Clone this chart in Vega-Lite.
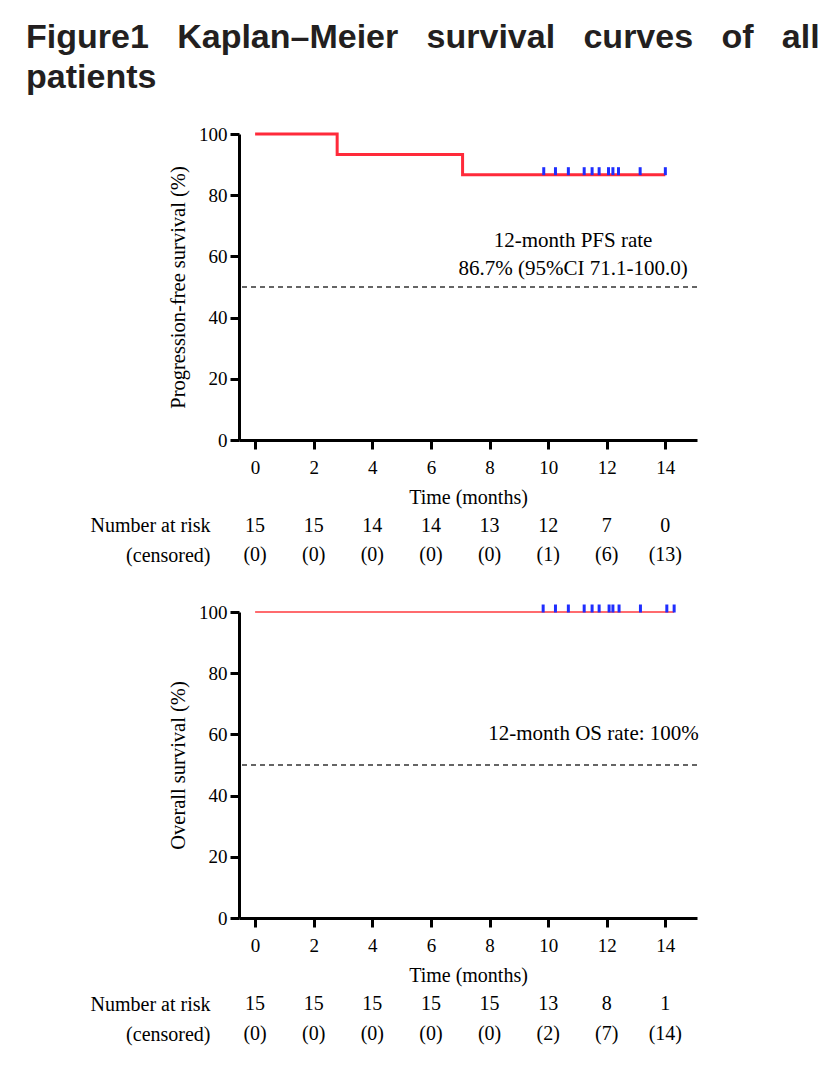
{
  "$schema": "https://vega.github.io/schema/vega-lite/v6.json",
  "background": "white",
  "padding": {"left": 26, "top": 21, "right": 10, "bottom": 10},
  "title": {
    "text": ["Figure1\u00a0\u00a0\u00a0Kaplan–Meier\u00a0\u00a0\u00a0survival\u00a0\u00a0\u00a0curves\u00a0\u00a0\u00a0of\u00a0\u00a0\u00a0all", "patients"],
    "anchor": "start",
    "font": "Liberation Sans",
    "fontWeight": "bold",
    "fontSize": 34,
    "color": "#231f20",
    "lineHeight": 40,
    "dx": -64,
    "offset": 30
  },
  "config": {
    "font": "Liberation Serif",
    "view": {"stroke": null},
    "axis": {
      "domainColor": "black",
      "domainWidth": 3,
      "tickColor": "black",
      "tickWidth": 3,
      "tickSize": 9,
      "labelFont": "Liberation Serif",
      "labelFontSize": 19,
      "labelColor": "black",
      "titleFont": "Liberation Serif",
      "titleFontSize": 20,
      "titleFontWeight": "normal",
      "titleColor": "black",
      "grid": false,
      "labelPadding": 3
    }
  },
  "spacing": 4,
  "vconcat": [
    {
      "width": 458,
      "height": 306,
      "layer": [
        {
          "data": {"values": [
            {"t": 0, "s": 100}, {"t": 2.8, "s": 93.3}, {"t": 7.08, "s": 86.7}, {"t": 14, "s": 86.7}
          ]},
          "mark": {"type": "line", "interpolate": "step-after", "color": "#ff2a3a", "strokeWidth": 3},
          "encoding": {
            "x": {"field": "t", "type": "quantitative", "scale": {"domain": [-0.55, 15.08], "nice": false, "zero": false},
                  "axis": {"values": [0, 2, 4, 6, 8, 10, 12, 14], "title": "Time (months)", "labelPadding": 9, "titlePadding": 10}},
            "y": {"field": "s", "type": "quantitative", "scale": {"domain": [0, 100], "nice": false},
                  "axis": {"values": [0, 20, 40, 60, 80, 100], "title": "Progression-free survival (%)", "titlePadding": 10, "titleFontSize": 20.5}}
          }
        },
        {
          "data": {"values": [
            {"t": 9.85, "s": 86.7}, {"t": 10.25, "s": 86.7}, {"t": 10.69, "s": 86.7}, {"t": 11.23, "s": 86.7},
            {"t": 11.5, "s": 86.7}, {"t": 11.74, "s": 86.7}, {"t": 12.06, "s": 86.7}, {"t": 12.21, "s": 86.7},
            {"t": 12.4, "s": 86.7}, {"t": 13.14, "s": 86.7}, {"t": 14.0, "s": 86.7}
          ]},
          "mark": {"type": "tick", "orient": "vertical", "color": "#1f2eff", "opacity": 1, "thickness": 3, "size": 8, "yOffset": -3.5},
          "encoding": {
            "x": {"field": "t", "type": "quantitative"},
            "y": {"field": "s", "type": "quantitative"}
          }
        },
        {
          "data": {"values": [{}]},
          "mark": {"type": "rule", "strokeDash": [5, 4], "color": "#333333", "strokeWidth": 1.5},
          "encoding": {"y": {"datum": 50}}
        },
        {
          "data": {"values": [{}]},
          "mark": {"type": "text", "fontSize": 21, "font": "Liberation Serif", "color": "black", "align": "center", "baseline": "middle", "lineHeight": 28},
          "encoding": {
            "x": {"datum": 10.85},
            "y": {"datum": 65},
            "text": {"value": ["12-month PFS rate", "86.7% (95%CI 71.1-100.0)"]}
          }
        }
      ]
    },
    {
      "width": 458,
      "height": 88,
      "data": {"values": [
        {"t": 0, "row": "Number at risk", "label": "15"}, {"t": 0, "row": "(censored)", "label": "(0)"},
        {"t": 2, "row": "Number at risk", "label": "15"}, {"t": 2, "row": "(censored)", "label": "(0)"},
        {"t": 4, "row": "Number at risk", "label": "14"}, {"t": 4, "row": "(censored)", "label": "(0)"},
        {"t": 6, "row": "Number at risk", "label": "14"}, {"t": 6, "row": "(censored)", "label": "(0)"},
        {"t": 8, "row": "Number at risk", "label": "13"}, {"t": 8, "row": "(censored)", "label": "(0)"},
        {"t": 10, "row": "Number at risk", "label": "12"}, {"t": 10, "row": "(censored)", "label": "(1)"},
        {"t": 12, "row": "Number at risk", "label": "7"}, {"t": 12, "row": "(censored)", "label": "(6)"},
        {"t": 14, "row": "Number at risk", "label": "0"}, {"t": 14, "row": "(censored)", "label": "(13)"}
      ]},
      "mark": {"type": "text", "fontSize": 20, "font": "Liberation Serif", "color": "black", "baseline": "middle"},
      "encoding": {
        "x": {"field": "t", "type": "quantitative", "scale": {"domain": [-0.55, 15.08], "nice": false, "zero": false}, "axis": null},
        "y": {"field": "row", "type": "nominal", "scale": {"type": "point", "domain": ["Number at risk", "(censored)"], "padding": 1, "align": 0.25},
              "axis": {"title": null, "domain": false, "ticks": false, "labelPadding": 29, "labelFontSize": 20}},
        "text": {"field": "label"}
      }
    },
    {
      "width": 458,
      "height": 306,
      "layer": [
        {
          "data": {"values": [
            {"t": 0, "s": 100}, {"t": 14.3, "s": 100}
          ]},
          "mark": {"type": "line", "interpolate": "step-after", "color": "#ff6b6e", "strokeWidth": 2},
          "encoding": {
            "x": {"field": "t", "type": "quantitative", "scale": {"domain": [-0.55, 15.08], "nice": false, "zero": false},
                  "axis": {"values": [0, 2, 4, 6, 8, 10, 12, 14], "title": "Time (months)", "labelPadding": 9, "titlePadding": 10}},
            "y": {"field": "s", "type": "quantitative", "scale": {"domain": [0, 100], "nice": false},
                  "axis": {"values": [0, 20, 40, 60, 80, 100], "title": "Overall survival (%)", "titlePadding": 10, "titleFontSize": 20.5}}
          }
        },
        {
          "data": {"values": [
            {"t": 9.83, "s": 100}, {"t": 10.25, "s": 100}, {"t": 10.69, "s": 100}, {"t": 11.23, "s": 100},
            {"t": 11.5, "s": 100}, {"t": 11.74, "s": 100}, {"t": 12.08, "s": 100}, {"t": 12.21, "s": 100},
            {"t": 12.42, "s": 100}, {"t": 13.15, "s": 100}, {"t": 14.05, "s": 100}, {"t": 14.3, "s": 100}
          ]},
          "mark": {"type": "tick", "orient": "vertical", "color": "#1f2eff", "opacity": 1, "thickness": 3, "size": 8, "yOffset": -3.5},
          "encoding": {
            "x": {"field": "t", "type": "quantitative"},
            "y": {"field": "s", "type": "quantitative"}
          }
        },
        {
          "data": {"values": [{}]},
          "mark": {"type": "rule", "strokeDash": [5, 4], "color": "#333333", "strokeWidth": 1.5},
          "encoding": {"y": {"datum": 50}}
        },
        {
          "data": {"values": [{}]},
          "mark": {"type": "text", "fontSize": 21, "font": "Liberation Serif", "color": "black", "align": "center", "baseline": "middle"},
          "encoding": {
            "x": {"datum": 11.55},
            "y": {"datum": 60},
            "text": {"value": "12-month OS rate: 100%"}
          }
        }
      ]
    },
    {
      "width": 458,
      "height": 60,
      "data": {"values": [
        {"t": 0, "row": "Number at risk", "label": "15"}, {"t": 0, "row": "(censored)", "label": "(0)"},
        {"t": 2, "row": "Number at risk", "label": "15"}, {"t": 2, "row": "(censored)", "label": "(0)"},
        {"t": 4, "row": "Number at risk", "label": "15"}, {"t": 4, "row": "(censored)", "label": "(0)"},
        {"t": 6, "row": "Number at risk", "label": "15"}, {"t": 6, "row": "(censored)", "label": "(0)"},
        {"t": 8, "row": "Number at risk", "label": "15"}, {"t": 8, "row": "(censored)", "label": "(0)"},
        {"t": 10, "row": "Number at risk", "label": "13"}, {"t": 10, "row": "(censored)", "label": "(2)"},
        {"t": 12, "row": "Number at risk", "label": "8"}, {"t": 12, "row": "(censored)", "label": "(7)"},
        {"t": 14, "row": "Number at risk", "label": "1"}, {"t": 14, "row": "(censored)", "label": "(14)"}
      ]},
      "mark": {"type": "text", "fontSize": 20, "font": "Liberation Serif", "color": "black", "baseline": "middle"},
      "encoding": {
        "x": {"field": "t", "type": "quantitative", "scale": {"domain": [-0.55, 15.08], "nice": false, "zero": false}, "axis": null},
        "y": {"field": "row", "type": "nominal", "scale": {"type": "point", "domain": ["Number at risk", "(censored)"], "padding": 0.5},
              "axis": {"title": null, "domain": false, "ticks": false, "labelPadding": 29, "labelFontSize": 20}},
        "text": {"field": "label"}
      }
    }
  ]
}
